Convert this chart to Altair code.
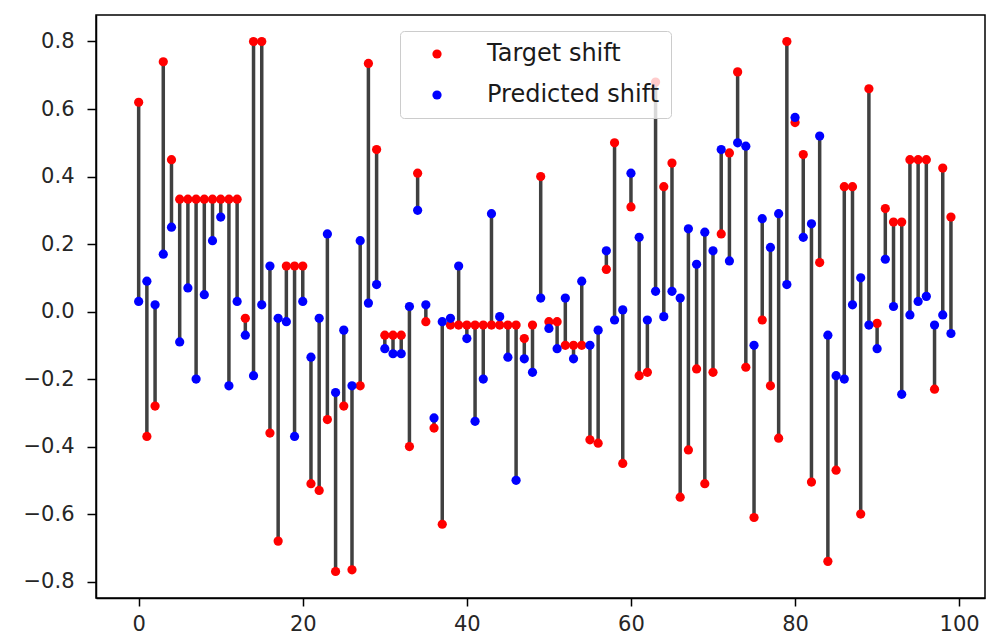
import altair as alt
import pandas as pd

idx = list(range(100))
target = [0.62, -0.37, -0.28, 0.74, 0.45, 0.333, 0.333, 0.333, 0.333, 0.333,
          0.333, 0.333, 0.333, -0.02, 0.80, 0.80, -0.36, -0.68, 0.135, 0.135,
          0.135, -0.51, -0.53, -0.32, -0.77, -0.28, -0.765, -0.22, 0.735, 0.48,
          -0.07, -0.07, -0.07, -0.40, 0.41, -0.03, -0.345, -0.63, -0.04, -0.04,
          -0.04, -0.04, -0.04, -0.04, -0.04, -0.04, -0.04, -0.08, -0.04, 0.40,
          -0.03, -0.03, -0.10, -0.10, -0.10, -0.38, -0.39, 0.125, 0.50, -0.45,
          0.31, -0.19, -0.18, 0.68, 0.37, 0.44, -0.55, -0.41, -0.17, -0.51,
          -0.18, 0.23, 0.47, 0.71, -0.165, -0.61, -0.025, -0.22, -0.375, 0.80,
          0.56, 0.465, -0.505, 0.145, -0.74, -0.47, 0.37, 0.37, -0.60, 0.66,
          -0.035, 0.305, 0.265, 0.265, 0.45, 0.45, 0.45, -0.23, 0.425, 0.28]
predicted = [0.03, 0.09, 0.02, 0.17, 0.25, -0.09, 0.07, -0.20, 0.05, 0.21,
             0.28, -0.22, 0.03, -0.07, -0.19, 0.02, 0.135, -0.02, -0.03, -0.37,
             0.03, -0.135, -0.02, 0.23, -0.24, -0.055, -0.22, 0.21, 0.025, 0.08,
             -0.11, -0.125, -0.125, 0.015, 0.30, 0.02, -0.315, -0.03, -0.02, 0.135,
             -0.08, -0.325, -0.20, 0.29, -0.015, -0.135, -0.50, -0.14, -0.18, 0.04,
             -0.05, -0.11, 0.04, -0.14, 0.09, -0.10, -0.055, 0.18, -0.025, 0.005,
             0.41, 0.22, -0.025, 0.06, -0.015, 0.06, 0.04, 0.245, 0.14, 0.235,
             0.18, 0.48, 0.15, 0.50, 0.49, -0.10, 0.275, 0.19, 0.29, 0.08,
             0.575, 0.22, 0.26, 0.52, -0.07, -0.19, -0.20, 0.02, 0.10, -0.04,
             -0.11, 0.155, 0.015, -0.245, -0.01, 0.03, 0.045, -0.04, -0.01, -0.065]

series_names = ["Target shift", "Predicted shift"]
series_colors = ["#ff0000", "#0000ff"]
y_ticks = [-0.8, -0.6, -0.4, -0.2, 0.0, 0.2, 0.4, 0.6, 0.8]
x_ticks = [0, 20, 40, 60, 80, 100]

wide = pd.DataFrame({"i": idx, "target": target, "pred": predicted})
long = pd.concat([
    pd.DataFrame({"i": idx, "v": target, "s": series_names[0], "o": 0}),
    pd.DataFrame({"i": idx, "v": predicted, "s": series_names[1], "o": 1}),
], ignore_index=True)

xscale = alt.Scale(domain=[-5.2, 103.15], nice=False, zero=False)
yscale = alt.Scale(domain=[-0.8485, 0.8785], nice=False, zero=False)

xaxis = alt.Axis(values=x_ticks, title=None, grid=False, tickSize=8, labelPadding=7,
                 labelFontSize=21, labelColor="#262626", tickColor="#000000",
                 tickWidth=1.5, domainWidth=1.5,
                 domainColor="#000000", labelFont="DejaVu Sans")
yaxis = alt.Axis(values=y_ticks, title=None, grid=False, tickSize=9, labelPadding=13,
                 format=".1f", labelExpr="replace(datum.label, '-', '\u2212')",
                 labelFontSize=21, labelColor="#262626", tickColor="#000000",
                 tickWidth=1.5, domainWidth=1.5,
                 domainColor="#000000", labelFont="DejaVu Sans")

rules = alt.Chart(wide).mark_rule(color="#404040", strokeWidth=3.5).encode(
    x=alt.X("i:Q", scale=xscale, axis=xaxis),
    y=alt.Y("target:Q", scale=yscale, axis=yaxis),
    y2="pred:Q",
)

points = alt.Chart(long).mark_point(filled=True, size=85, opacity=1).encode(
    x=alt.X("i:Q", scale=xscale),
    y=alt.Y("v:Q", scale=yscale),
    color=alt.Color("s:N",
                    scale=alt.Scale(domain=series_names, range=series_colors),
                    legend=alt.Legend(title=None, orient="none", legendX=304, legendY=16,
                                      fillColor="rgba(255,255,255,0.8)",
                                      strokeColor="#cccccc", cornerRadius=4,
                                      padding=11, symbolType="circle", symbolSize=85,
                                      symbolOffset=14, labelOffset=38, labelLimit=400,
                                      labelFontSize=24, labelFont="DejaVu Sans",
                                      labelColor="#1a1a1a", rowPadding=17,
                                      symbolStrokeWidth=0)),
    order=alt.Order("o:Q"),
)

chart = alt.layer(rules, points).properties(
    width=889, height=583,
    autosize=alt.AutoSizeParams(type="none"),
    padding={"left": 96, "top": 15, "right": 2, "bottom": 43},
    background="white",
).configure_view(stroke="#000000", strokeWidth=1.5)

chart.save("out.html", embed_options={"renderer": "svg", "actions": False})
